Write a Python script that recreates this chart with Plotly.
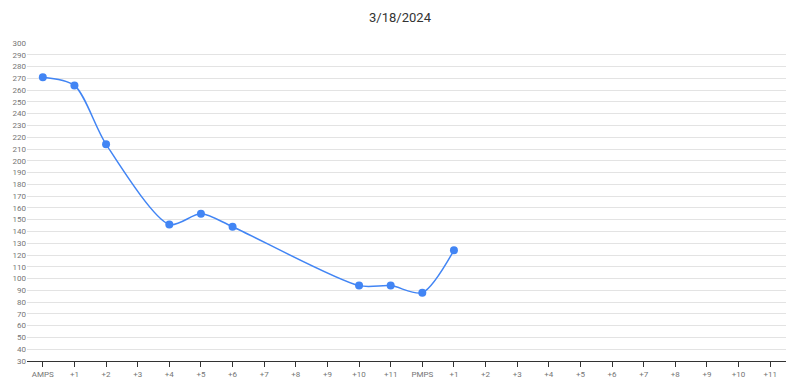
import plotly.graph_objects as go

labels = ["AMPS"] + [f"+{i}" for i in range(1, 12)] + ["PMPS"] + [f"+{i}" for i in range(1, 12)]
values = [271, 264, 214, None, 146, 155, 144, None, None, None, 94, 94,
          88, 124] + [None] * 10
y_ticks = list(range(30, 301, 10))

x = list(range(len(labels)))

fig = go.Figure()
fig.add_trace(go.Scatter(
    x=x, y=values, mode="lines+markers", connectgaps=True,
    line=dict(color="#4285F4", width=1.5, shape="spline", smoothing=0.8),
    marker=dict(color="#4285F4", size=8),
    hoverinfo="x+y",
))
fig.update_layout(
    width=800, height=387,
    margin=dict(l=27, r=14, t=43, b=26, autoexpand=False),
    paper_bgcolor="white", plot_bgcolor="white",
    title=dict(text="3/18/2024", x=0.5, xanchor="center", y=0.955, yanchor="middle",
               font=dict(family="Roboto", size=13, color="#333333")),
    showlegend=False,
    font=dict(family="Roboto"),
)
fig.update_xaxes(
    tickmode="array", tickvals=x, ticktext=labels, range=[-0.5, len(labels) - 0.5],
    showgrid=False, showline=True, linecolor="#333333", linewidth=1,
    ticks="outside", ticklen=5, tickcolor="#333333", tickwidth=1,
    tickfont=dict(size=8, color="#757575"), zeroline=False, automargin=False,
)
fig.update_yaxes(
    tickmode="array", tickvals=y_ticks, ticktext=[str(v) for v in y_ticks],
    range=[30, 300], showgrid=True, gridcolor="#e3e3e3", gridwidth=1,
    showline=False, zeroline=False, ticks="", automargin=False,
    tickfont=dict(size=8, color="#757575"),
)
fig.write_html("out.html")
